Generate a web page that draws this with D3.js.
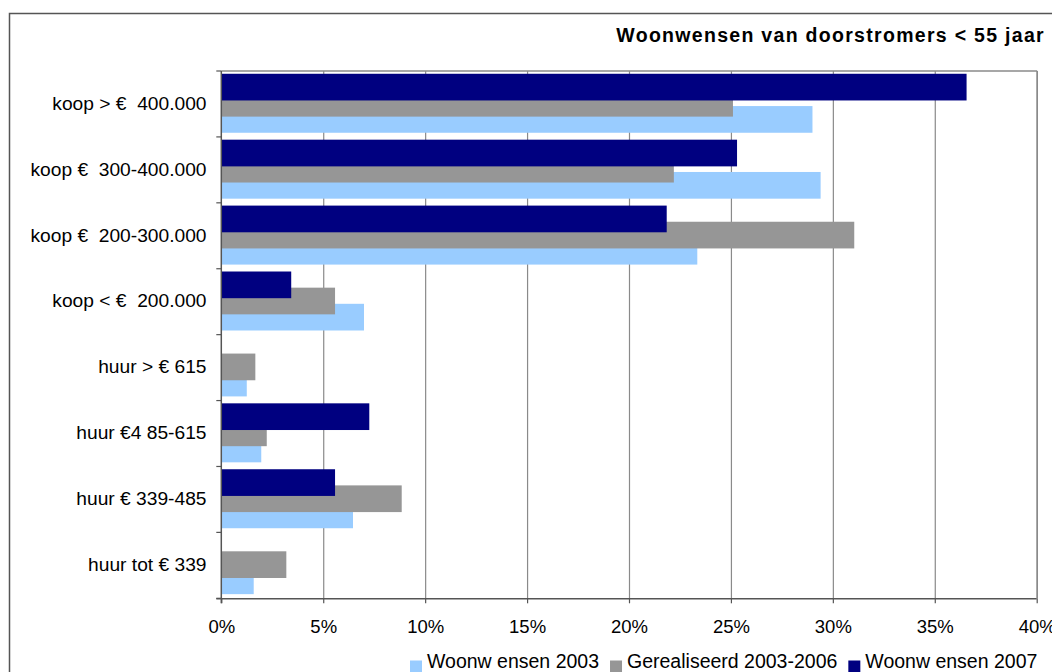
<!DOCTYPE html>
<html>
<head>
<meta charset="utf-8">
<script src="https://cdn.jsdelivr.net/npm/d3@7"></script>
<style>
  html, body { margin: 0; padding: 0; background: #fff; }
  svg text { font-family: "Liberation Sans", Arial, sans-serif; white-space: pre; fill: #000; }
</style>
</head>
<body>
<svg id="chart" width="1052" height="672"></svg>
<script>
const categories = [
  "koop > €  400.000",
  "koop €  300-400.000",
  "koop €  200-300.000",
  "koop < €  200.000",
  "huur > € 615",
  "huur €4 85-615",
  "huur € 339-485",
  "huur tot € 339"
];
const woonwensen2003 = [29.0, 29.4, 23.35, 7.0, 1.25, 1.96, 6.46, 1.59];
const gerealiseerd2003_2006 = [25.1, 22.2, 31.05, 5.58, 1.67, 2.23, 8.85, 3.19];
const woonwensen2007 = [36.56, 25.3, 21.85, 3.43, null, 7.26, 5.58, null];
const seriesNames = ["Woonw ensen 2003", "Gerealiseerd 2003-2006", "Woonw ensen 2007"];
const seriesColors = ["#99ccff", "#969696", "#000080"];
const xTicks = [0, 5, 10, 15, 20, 25, 30, 35, 40];
const title = "Woonwensen van doorstromers < 55 jaar";

const series = [woonwensen2003, gerealiseerd2003_2006, woonwensen2007];

const svg = d3.select("#chart");

// outer frame
svg.append("path")
  .attr("d", "M9.5,680 V13.5 H1060")
  .attr("fill", "none").attr("stroke", "#555").attr("stroke-width", 1.5);

const plot = { left: 221.3, right: 1036.7, top: 71, bottom: 598.3 };

const x = d3.scaleLinear().domain([0, 40]).range([plot.left, plot.right]);
const y = d3.scaleBand().domain(categories).range([plot.top, plot.bottom]).paddingInner(0).paddingOuter(0);
const bw = y.bandwidth();
// within-band position: 2007 at top, then gerealiseerd, then 2003 (overlapping bars)
const barH = bw * 0.405;
const ySub = d3.scalePoint().domain([2, 1, 0]).range([bw * 0.042, bw * 0.042 + bw * 0.49]);

// gridlines
svg.append("g").selectAll("line").data(xTicks.slice(1))
  .join("line")
  .attr("x1", d => x(d) + 0.5).attr("x2", d => x(d) + 0.5)
  .attr("y1", plot.top).attr("y2", plot.bottom)
  .attr("stroke", "#8a8a8a").attr("stroke-width", 1.2);

// plot top border
svg.append("line")
  .attr("x1", plot.left).attr("x2", plot.right + 0.5)
  .attr("y1", plot.top).attr("y2", plot.top)
  .attr("stroke", "#8a8a8a").attr("stroke-width", 1.5);

// bars: draw 2003 first, then gerealiseerd, then 2007 on top
[0, 1, 2].forEach(si => {
  svg.append("g").selectAll("rect")
    .data(categories.map((c, i) => ({ c, v: series[si][i] })).filter(d => d.v != null))
    .join("rect")
    .attr("x", x(0))
    .attr("y", d => y(d.c) + ySub(si))
    .attr("width", d => x(d.v) - x(0))
    .attr("height", barH)
    .attr("fill", seriesColors[si]);
});

// x axis
const xAxis = d3.axisBottom(x).tickValues(xTicks).tickFormat(d => d + "%").tickSize(5).tickSizeOuter(0);
const gx = svg.append("g").attr("transform", `translate(0,${plot.bottom})`).call(xAxis);
gx.select(".domain").attr("stroke", "#555").attr("stroke-width", 1.5).attr("d", `M${plot.left - 5},0.5H${plot.right}`);
gx.selectAll(".tick line").attr("stroke", "#555").attr("stroke-width", 1.2);
gx.selectAll(".tick text").attr("font-size", 18.5).attr("font-family", "Liberation Sans, Arial, sans-serif")
  .attr("y", 0).attr("dy", 0).attr("transform", "translate(0,34.4)").attr("fill", "#000");

// y axis (ticks at band boundaries)
const boundaries = categories.map(c => y(c)).concat([plot.bottom]);
svg.append("line")
  .attr("x1", plot.left).attr("x2", plot.left)
  .attr("y1", plot.top).attr("y2", plot.bottom + 5)
  .attr("stroke", "#555").attr("stroke-width", 1.5);
svg.append("g").selectAll("line").data(boundaries).join("line")
  .attr("x1", plot.left - 5).attr("x2", plot.left)
  .attr("y1", d => d).attr("y2", d => d)
  .attr("stroke", "#555").attr("stroke-width", 1.2);

// category labels
svg.append("g").selectAll("text").data(categories).join("text")
  .attr("x", 206.5)
  .attr("y", d => y(d) + bw / 2 + 5.8)
  .attr("text-anchor", "end")
  .attr("font-size", 19.2)
  .text(d => d);

// right border of plot
svg.append("line")
  .attr("x1", plot.right + 0.5).attr("x2", plot.right + 0.5)
  .attr("y1", plot.top).attr("y2", plot.bottom)
  .attr("stroke", "#8a8a8a").attr("stroke-width", 1.5);

// title
svg.append("text")
  .attr("x", 1045).attr("y", 41.7)
  .attr("text-anchor", "end")
  .attr("font-size", 19.5).attr("font-weight", "bold")
  .attr("letter-spacing", "1.3px")
  .text(title);

// legend
const legend = svg.append("g");
let lx = 410;
seriesNames.forEach((name, i) => {
  legend.append("rect").attr("x", lx).attr("y", 660.5).attr("width", 12).attr("height", 12).attr("fill", seriesColors[i]);
  const t = legend.append("text").attr("x", lx + 17).attr("y", 668.3).attr("font-size", 19.5).text(name);
  lx = lx + 17 + t.node().getComputedTextLength() + 11;
});
</script>
</body>
</html>
